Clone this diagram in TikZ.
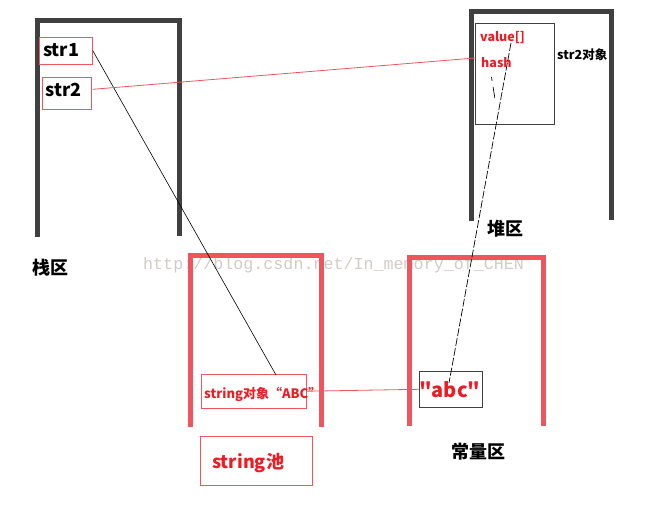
\documentclass[tikz,border=0pt]{standalone}
\usepackage{fontspec}
\setmainfont{Noto Sans CJK SC}
\newfontfamily\abcfont{Noto Sans CJK SC}[Ligatures=TeXOff]
\newfontfamily\wmfont{Liberation Mono}
\definecolor{wallgray}{RGB}{64,64,64}
\definecolor{boxred}{RGB}{240,84,92}
\definecolor{textred}{RGB}{236,28,36}
\definecolor{wmgray}{RGB}{208,204,198}
\tikzset{
  wallg/.style={draw=wallgray, line width=5pt},
  wallr/.style={draw=boxred, line width=5pt},
  rbox/.style={draw=boxred, line width=0.9pt, inner sep=0pt},
  gbox/.style={draw=wallgray, line width=0.9pt, inner sep=0pt},
  big/.style={font=\bfseries\fontsize{18}{20}\selectfont},
  redbig/.style={text=textred, font=\bfseries\fontsize{18}{20}\selectfont},
  redsmall/.style={text=textred, font=\bfseries\fontsize{12.5}{14}\selectfont},
  ptr/.style={draw=black, line width=0.6pt},
  redptr/.style={draw=boxred, line width=0.8pt},
  dptr/.style={draw=black, line width=0.7pt, dash pattern=on 8pt off 2pt},
}
\begin{document}
\begin{tikzpicture}[x=1pt,y=-1pt]
\useasboundingbox (0,0) rectangle (646,507);
% watermark
\node[anchor=west, inner sep=0pt, text=wmgray, font=\wmfont\fontsize{16.7}{18}\selectfont] (wm) at (143,265) {http://blog.csdn.net/In\_memory\_of\_CHEN};
% containers
\draw[wallg] (37.5,236.5) -- (37.5,20.5) -- (179.5,20.5) -- (179.5,236);
\draw[wallg] (471.5,220.5) -- (471.5,11.3) -- (611.5,11.3) -- (611.5,220);
\draw[wallr] (190.5,427) -- (190.5,255) -- (321.5,255) -- (321.5,427);
\draw[wallr] (409,426) -- (409,257.5) -- (543.5,257.5) -- (543.5,426);
% stack
\node[rbox, minimum width=53pt, minimum height=27pt] (str1) at (65.8,50.6) {};
\node[anchor=west, inner sep=0pt, big] (str1t) at (43,50) {str1};
\node[rbox, minimum width=49pt, minimum height=32pt] (str2) at (66.8,93.3) {};
\node[anchor=west, inner sep=0pt, big] (str2t) at (45.5,90) {str2};
\node[big] (stacklbl) at (50,268) {栈区};
% heap
\node[gbox, minimum width=79.7pt, minimum height=101pt] (heapbox) at (514.85,73.65) {};
\node[anchor=west, inner sep=0pt, redsmall] (val) at (480,38) {value[]};
\node[anchor=west, inner sep=0pt, redsmall] (hash) at (481,63) {hash};
\node[anchor=west, inner sep=0pt, font=\bfseries\fontsize{12.5}{14}\selectfont] (objlbl) at (557,55) {str2对象};
\node[big] (heaplbl) at (505,229) {堆区};
% pool
\node[rbox, minimum width=105.7pt, minimum height=34.3pt] (strobj) at (253.85,391.2) {};
\node[anchor=west, inner sep=0pt, text=textred, font=\bfseries\fontsize{13}{15}\selectfont] (strobjt) at (204,394) {string对象“ABC”};
\node[rbox, minimum width=112.7pt, minimum height=48.6pt] (pool) at (256.35,461) {};
\node[anchor=west, inner sep=0pt, redbig] (poolt) at (212,463) {string池};
% constants
\node[gbox, minimum width=63pt, minimum height=36pt] (abc) at (450.8,389.3) {};
\node[anchor=west, inner sep=0pt, text=textred, font=\abcfont\bfseries\fontsize{20}{22}\selectfont] (abct) at (419,390) {"abc"};
\node[big] (constlbl) at (478,452) {常量区};
% connectors
\coordinate (s1end) at (276,375);
\coordinate (heapin) at (475,58);
\coordinate (vstart) at (511,43);
\coordinate (aend) at (449,383);
\coordinate (h1) at (491.5,77);
\coordinate (h2) at (495,99);
\draw[ptr] (str1.east) -- (s1end);
\draw[redptr] (str2.east) ++(1,-4) -- (heapin);
\draw[dptr] (vstart) -- (aend);
\draw[draw=black, line width=0.7pt, dash pattern=on 4pt off 6pt on 11pt off 10pt] (h1) -- (h2);
\draw[redptr] (strobj.east) -- (abc.west);
\end{tikzpicture}
\end{document}
